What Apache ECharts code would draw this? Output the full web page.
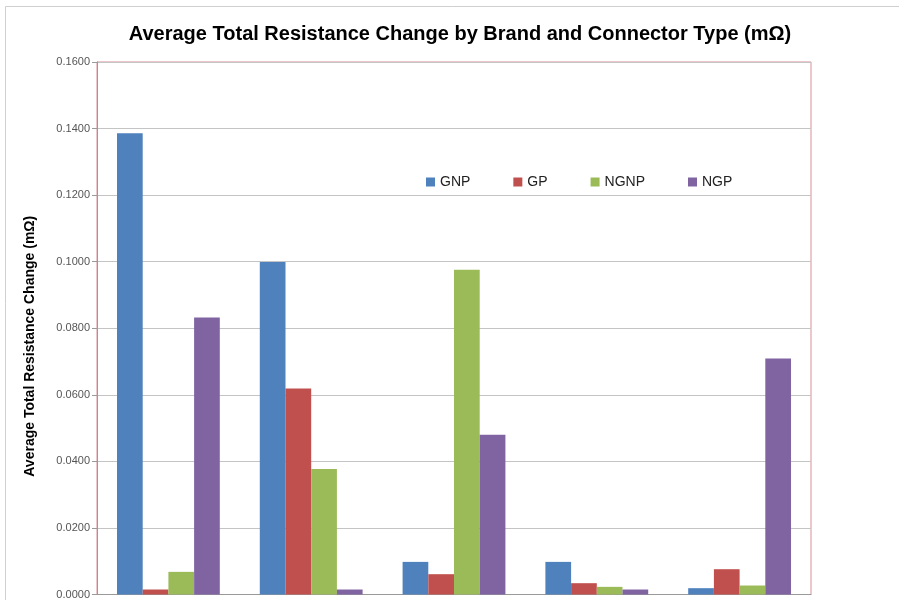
<!DOCTYPE html>
<html>
<head>
<meta charset="utf-8">
<script src="https://cdn.jsdelivr.net/npm/echarts@6/dist/echarts.min.js"></script>
<style>
  html, body { margin: 0; padding: 0; background: #fff; }
  #chart { width: 899px; height: 600px; }
</style>
</head>
<body>
<div id="chart"></div>
<script>
// brand / connector groups (no axis labels shown in the original)
var categories = ["1", "2", "3", "4", "5"];
var seriesNames = ["GNP", "GP", "NGNP", "NGP"];
var colors = ["#4F81BD", "#C0504D", "#9BBB59", "#8064A2"];

// average total resistance change, mOhm
var gnpValues  = [0.1386, 0.0999, 0.0098, 0.0098, 0.0019];
var gpValues   = [0.0015, 0.0619, 0.0061, 0.0034, 0.0076];
var ngnpValues = [0.0068, 0.0377, 0.0976, 0.0023, 0.0027];
var ngpValues  = [0.0832, 0.0015, 0.0480, 0.0015, 0.0709];

var yTicks = { min: 0, max: 0.16, interval: 0.02 };

var allValues = [gnpValues, gpValues, ngnpValues, ngpValues];

var myChart = echarts.init(document.getElementById('chart'));

var series = [];
for (var i = 0; i < seriesNames.length; i++) {
	series.push({
		name: seriesNames[i],
		type: 'bar',
		data: allValues[i],
		barGap: '0%',
		barCategoryGap: '28%',
		itemStyle: { color: colors[i] }
	});
}

var pink = '#d98f98';
var gray = '#9a9a9a';

option = {
	backgroundColor: '#fff',
	animation: false,
	title: {
		text: 'Average Total Resistance Change by Brand and Connector Type (mΩ)',
		left: 455,
		textAlign: 'center',
		top: 19,
		textStyle: { fontFamily: 'Liberation Sans', fontSize: 20, fontWeight: 'bold', color: '#000' }
	},
	legend: {
		data: seriesNames,
		left: 421,
		top: 170,
		itemWidth: 9,
		itemHeight: 9,
		itemGap: 43,
		icon: 'rect',
		textStyle: { fontFamily: 'Liberation Sans', fontSize: 14, color: '#222' }
	},
	grid: {
		left: 97,
		right: 88,
		top: 62,
		bottom: 5,
		show: true,
		borderColor: pink,
		borderWidth: 1
	},
	graphic: [{
		type: 'rect',
		shape: { x: 5.5, y: 6.5, width: 1000, height: 700 },
		style: { fill: 'none', stroke: '#cfcfcf', lineWidth: 1 },
		silent: true
	}],
	xAxis: {
		type: 'category',
		data: categories,
		axisLine: { onZero: false, lineStyle: { color: gray } },
		axisTick: { show: false },
		axisLabel: { show: false }
	},
	yAxis: {
		type: 'value',
		min: yTicks.min,
		max: yTicks.max,
		interval: yTicks.interval,
		name: 'Average Total Resistance Change (mΩ)',
		nameLocation: 'middle',
		nameGap: 60,
		nameTextStyle: { fontFamily: 'Liberation Sans', fontSize: 14, fontWeight: 'bold', color: '#000', padding: [0, 36, 0, 0] },
		axisLine: { show: true, onZero: false, lineStyle: { color: gray } },
		axisTick: { show: true, inside: false, length: 5, lineStyle: { color: gray } },
		axisLabel: {
			formatter: function (v) { return v.toFixed(4); },
			fontFamily: 'Liberation Sans',
			fontSize: 11,
			color: '#555',
			margin: 7
		},
		splitLine: { lineStyle: { color: '#c4c4c4', width: 1 } }
	},
	series: series
};

myChart.setOption(option);
</script>
</body>
</html>
